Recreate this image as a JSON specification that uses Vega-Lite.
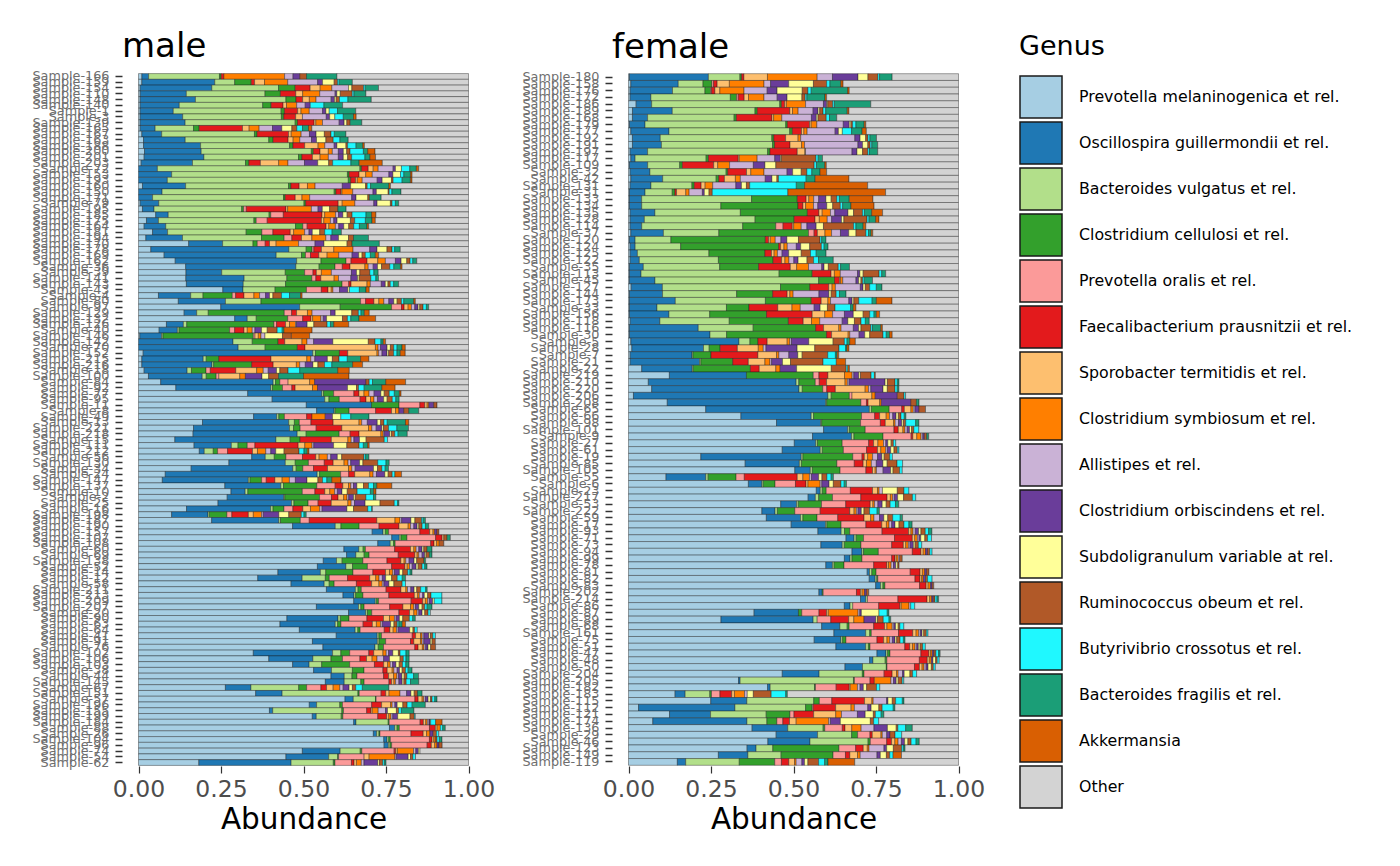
{
"$schema": "https://vega.github.io/schema/vega-lite/v6.json",
"padding": {"left": 31, "top": 29, "right": 5, "bottom": 5},
"background": "white",
"datasets": {
"genus": [
{"key":"a","genus":"Prevotella melaninogenica et rel.","ord":1},
{"key":"b","genus":"Oscillospira guillermondii et rel.","ord":2},
{"key":"c","genus":"Bacteroides vulgatus et rel.","ord":3},
{"key":"d","genus":"Clostridium cellulosi et rel.","ord":4},
{"key":"e","genus":"Prevotella oralis et rel.","ord":5},
{"key":"f","genus":"Faecalibacterium prausnitzii et rel.","ord":6},
{"key":"g","genus":"Sporobacter termitidis et rel.","ord":7},
{"key":"h","genus":"Clostridium symbiosum et rel.","ord":8},
{"key":"ii","genus":"Allistipes et rel.","ord":9},
{"key":"j","genus":"Clostridium orbiscindens et rel.","ord":10},
{"key":"k","genus":"Subdoligranulum variable at rel.","ord":11},
{"key":"l","genus":"Ruminococcus obeum et rel.","ord":12},
{"key":"m","genus":"Butyrivibrio crossotus et rel.","ord":13},
{"key":"n","genus":"Bacteroides fragilis et rel.","ord":14},
{"key":"o","genus":"Akkermansia","ord":15},
{"key":"z","genus":"Other","ord":16}
],
"abund": [
{"s":"Sample-166","sx":"male","i":1,"a":0.01,"b":0.02,"c":0.21,"d":0.005,"f":0.008,"h":0.18,"ii":0.025,"j":0.02,"l":0.02,"n":0.09,"z":0.39},
{"s":"Sample-159","sx":"male","i":2,"a":0.01,"b":0.22,"c":0.06,"d":0.05,"f":0.01,"g":0.03,"h":0.07,"ii":0.09,"j":0.015,"k":0.035,"l":0.01,"m":0.005,"n":0.04,"z":0.35},
{"s":"Sample-154","sx":"male","i":3,"a":0.005,"b":0.215,"c":0.2,"d":0.05,"f":0.045,"g":0.03,"h":0.035,"ii":0.05,"k":0.01,"l":0.035,"m":0.005,"n":0.04,"z":0.27},
{"s":"Sample-110","sx":"male","i":4,"a":0.005,"b":0.135,"c":0.23,"d":0.045,"f":0.045,"g":0.02,"h":0.05,"ii":0.045,"j":0.005,"k":0.01,"l":0.035,"m":0.005,"n":0.035,"z":0.3},
{"s":"Sample-148","sx":"male","i":5,"a":0.005,"b":0.165,"c":0.27,"d":0.03,"f":0.02,"g":0.02,"h":0.02,"ii":0.045,"j":0.01,"k":0.005,"l":0.01,"m":0.025,"n":0.07,"z":0.29},
{"s":"Sample-140","sx":"male","i":6,"a":0.005,"b":0.115,"c":0.245,"d":0.025,"f":0.035,"g":0.01,"h":0.03,"ii":0.025,"j":0.015,"m":0.04,"n":0.055,"z":0.37},
{"s":"Sample-1","sx":"male","i":7,"a":0.005,"b":0.1,"c":0.325,"d":0.01,"f":0.04,"g":0.01,"h":0.025,"ii":0.04,"j":0.01,"k":0.01,"m":0.025,"n":0.055,"z":0.34},
{"s":"Sample-3","sx":"male","i":8,"a":0.005,"b":0.125,"c":0.29,"d":0.007,"f":0.035,"g":0.02,"ii":0.07,"j":0.01,"k":0.015,"m":0.025,"n":0.03,"o":0.008,"z":0.33},
{"s":"Sample-139","sx":"male","i":9,"a":0.005,"b":0.135,"c":0.33,"d":0.007,"f":0.05,"g":0.005,"h":0.02,"ii":0.05,"j":0.015,"k":0.008,"l":0.01,"n":0.035,"z":0.32},
{"s":"Sample-165","sx":"male","i":10,"a":0.005,"b":0.045,"c":0.115,"d":0.017,"f":0.13,"g":0.02,"h":0.03,"ii":0.04,"j":0.028,"k":0.03,"l":0.015,"m":0.017,"n":0.018,"o":0.01,"z":0.47},
{"s":"Sample-167","sx":"male","i":11,"a":0.01,"b":0.06,"c":0.28,"d":0.008,"f":0.095,"g":0.008,"h":0.03,"ii":0.025,"j":0.02,"k":0.025,"l":0.02,"m":0.01,"n":0.035,"z":0.37},
{"s":"Sample-163","sx":"male","i":12,"a":0.015,"b":0.125,"c":0.25,"d":0.013,"f":0.045,"g":0.015,"h":0.02,"ii":0.035,"j":0.015,"k":0.028,"l":0.022,"m":0.02,"n":0.025,"z":0.36},
{"s":"Sample-188","sx":"male","i":13,"a":0.015,"b":0.17,"c":0.265,"d":0.01,"f":0.035,"g":0.04,"h":0.02,"ii":0.028,"j":0.008,"k":0.027,"l":0.005,"m":0.025,"n":0.02,"o":0.005,"z":0.31},
{"s":"Sample-200","sx":"male","i":14,"a":0.018,"b":0.17,"c":0.33,"d":0.006,"f":0.02,"g":0.025,"h":0.012,"ii":0.018,"j":0.015,"k":0.01,"l":0.01,"m":0.04,"n":0.013,"o":0.022,"z":0.28},
{"s":"Sample-201","sx":"male","i":15,"a":0.017,"b":0.18,"c":0.285,"d":0.01,"f":0.032,"g":0.023,"h":0.025,"ii":0.03,"j":0.015,"k":0.013,"l":0.012,"m":0.04,"n":0.015,"o":0.017,"z":0.28},
{"s":"Sample-203","sx":"male","i":16,"a":0.008,"b":0.155,"c":0.16,"d":0.01,"f":0.035,"g":0.055,"h":0.028,"ii":0.05,"j":0.04,"k":0.033,"l":0.012,"m":0.055,"n":0.025,"o":0.07,"z":0.26},
{"s":"Sample-72","sx":"male","i":17,"b":0.057,"c":0.61,"d":0.005,"f":0.02,"g":0.015,"h":0.015,"ii":0.045,"j":0.007,"k":0.018,"m":0.025,"n":0.02,"o":0.007,"z":0.15},
{"s":"Sample-153","sx":"male","i":18,"b":0.1,"c":0.53,"d":0.005,"f":0.03,"g":0.02,"h":0.02,"ii":0.05,"j":0.012,"k":0.023,"m":0.01,"n":0.02,"o":0.005,"z":0.17},
{"s":"Sample-193","sx":"male","i":19,"b":0.087,"c":0.545,"d":0.007,"f":0.015,"g":0.005,"h":0.015,"ii":0.045,"j":0.015,"k":0.028,"l":0.005,"m":0.027,"n":0.025,"o":0.005,"z":0.17},
{"s":"Sample-160","sx":"male","i":20,"a":0.012,"b":0.13,"c":0.31,"d":0.007,"f":0.025,"g":0.025,"h":0.023,"ii":0.082,"j":0.025,"k":0.045,"l":0.005,"m":0.01,"n":0.055,"o":0.005,"z":0.235},
{"s":"Sample-150","sx":"male","i":21,"b":0.07,"c":0.51,"d":0.005,"f":0.015,"g":0.003,"h":0.032,"ii":0.06,"j":0.01,"k":0.035,"l":0.003,"m":0.008,"n":0.027,"z":0.2},
{"s":"Sample-171","sx":"male","i":22,"b":0.042,"c":0.39,"d":0.005,"f":0.03,"g":0.02,"h":0.023,"ii":0.125,"j":0.013,"k":0.035,"l":0.005,"n":0.035,"z":0.26},
{"s":"Sample-79","sx":"male","i":23,"a":0.005,"b":0.056,"c":0.437,"d":0.005,"f":0.098,"g":0.012,"h":0.038,"ii":0.057,"j":0.01,"k":0.04,"l":0.005,"m":0.01,"n":0.01,"z":0.21},
{"s":"Sample-195","sx":"male","i":24,"a":0.012,"b":0.035,"c":0.265,"d":0.006,"e":0.008,"f":0.12,"g":0.005,"h":0.072,"ii":0.02,"j":0.013,"k":0.022,"l":0.025,"n":0.025,"z":0.37},
{"s":"Sample-185","sx":"male","i":25,"a":0.052,"b":0.038,"c":0.305,"d":0.005,"e":0.038,"f":0.117,"g":0.008,"h":0.033,"ii":0.009,"j":0.013,"k":0.013,"l":0.015,"m":0.042,"n":0.017,"o":0.013,"z":0.28},
{"s":"Sample-175","sx":"male","i":26,"a":0.024,"b":0.036,"c":0.287,"d":0.007,"e":0.033,"f":0.163,"g":0.007,"h":0.02,"ii":0.01,"j":0.01,"k":0.04,"l":0.013,"m":0.032,"n":0.02,"o":0.01,"z":0.28},
{"s":"Sample-164","sx":"male","i":27,"a":0.017,"b":0.065,"c":0.39,"d":0.022,"e":0.013,"f":0.057,"g":0.008,"h":0.02,"ii":0.01,"j":0.015,"k":0.015,"l":0.015,"m":0.017,"n":0.023,"o":0.005,"z":0.3},
{"s":"Sample-181","sx":"male","i":28,"a":0.042,"b":0.045,"c":0.235,"d":0.047,"e":0.033,"f":0.052,"g":0.01,"h":0.033,"ii":0.013,"j":0.01,"k":0.022,"l":0.015,"m":0.022,"n":0.028,"z":0.38},
{"s":"Sample-194","sx":"male","i":29,"a":0.022,"b":0.11,"c":0.237,"d":0.068,"e":0.023,"f":0.029,"g":0.031,"h":0.042,"ii":0.015,"j":0.023,"k":0.03,"l":0.015,"n":0.045,"z":0.3},
{"s":"Sample-170","sx":"male","i":30,"a":0.152,"b":0.103,"c":0.092,"d":0.013,"e":0.024,"f":0.013,"g":0.02,"h":0.068,"ii":0.05,"j":0.027,"k":0.07,"l":0.015,"n":0.083,"z":0.27},
{"s":"Sample-178","sx":"male","i":31,"a":0.037,"b":0.415,"c":0.052,"d":0.018,"e":0.005,"f":0.023,"g":0.037,"h":0.058,"ii":0.05,"j":0.022,"k":0.03,"l":0.015,"m":0.008,"n":0.017,"z":0.205},
{"s":"Sample-169","sx":"male","i":32,"a":0.077,"b":0.337,"c":0.076,"d":0.012,"e":0.015,"f":0.025,"g":0.025,"h":0.035,"ii":0.04,"j":0.02,"k":0.01,"l":0.01,"m":0.015,"n":0.015,"o":0.01,"z":0.27},
{"s":"Sample-162","sx":"male","i":33,"a":0.11,"b":0.364,"c":0.073,"d":0.075,"e":0.015,"f":0.048,"g":0.032,"h":0.023,"ii":0.03,"j":0.017,"k":0.017,"l":0.01,"m":0.008,"n":0.012,"z":0.155},
{"s":"Sample-36","sx":"male","i":34,"a":0.142,"b":0.332,"c":0.07,"d":0.048,"e":0.022,"f":0.023,"g":0.045,"h":0.01,"ii":0.015,"j":0.013,"k":0.012,"l":0.025,"m":0.012,"n":0.02,"o":0.005,"z":0.2},
{"s":"Sample-39","sx":"male","i":35,"a":0.142,"b":0.107,"c":0.19,"d":0.058,"e":0.025,"f":0.01,"g":0.015,"h":0.03,"ii":0.06,"j":0.015,"k":0.01,"l":0.03,"m":0.012,"n":0.013,"z":0.27},
{"s":"Sample-141","sx":"male","i":36,"a":0.142,"b":0.175,"c":0.128,"d":0.075,"e":0.012,"f":0.015,"g":0.04,"h":0.013,"ii":0.037,"j":0.02,"k":0.005,"l":0.035,"m":0.015,"n":0.008,"z":0.27},
{"s":"Sample-143","sx":"male","i":37,"a":0.144,"b":0.171,"c":0.127,"d":0.17,"e":0.02,"f":0.007,"g":0.048,"h":0.01,"ii":0.033,"j":0.012,"k":0.008,"l":0.007,"m":0.01,"n":0.015,"z":0.21},
{"s":"Sample-43","sx":"male","i":38,"a":0.255,"b":0.061,"c":0.097,"d":0.095,"e":0.045,"f":0.02,"g":0.01,"h":0.005,"ii":0.02,"j":0.025,"k":0.005,"m":0.03,"n":0.02,"o":0.01,"z":0.3},
{"s":"Sample-4","sx":"male","i":39,"a":0.06,"b":0.097,"c":0.037,"d":0.088,"e":0.01,"f":0.025,"g":0.03,"h":0.017,"ii":0.018,"j":0.012,"k":0.01,"l":0.026,"m":0.024,"n":0.033,"o":0.005,"z":0.5},
{"s":"Sample-80","sx":"male","i":40,"a":0.12,"b":0.142,"c":0.107,"d":0.3,"e":0.015,"f":0.025,"g":0.015,"h":0.015,"ii":0.015,"j":0.015,"k":0.01,"l":0.013,"m":0.007,"n":0.03,"o":0.005,"z":0.16},
{"s":"Sample-97","sx":"male","i":41,"a":0.248,"b":0.238,"c":0.122,"d":0.155,"e":0.03,"f":0.008,"g":0.012,"h":0.01,"ii":0.01,"j":0.01,"k":0.005,"l":0.01,"m":0.01,"n":0.007,"z":0.12},
{"s":"Sample-129","sx":"male","i":42,"a":0.138,"b":0.038,"c":0.035,"d":0.23,"e":0.022,"f":0.015,"g":0.033,"h":0.014,"ii":0.056,"j":0.014,"k":0.05,"l":0.02,"m":0.008,"n":0.01,"o":0.015,"z":0.3},
{"s":"Sample-132","sx":"male","i":43,"a":0.29,"b":0.038,"c":0.027,"d":0.095,"e":0.045,"f":0.025,"g":0.005,"h":0.025,"ii":0.007,"j":0.01,"k":0.048,"l":0.015,"m":0.01,"n":0.025,"o":0.05,"z":0.28},
{"s":"Sample-126","sx":"male","i":44,"a":0.084,"b":0.051,"c":0.01,"d":0.262,"e":0.008,"f":0.027,"g":0.012,"h":0.018,"ii":0.003,"j":0.032,"k":0.02,"l":0.04,"m":0.01,"n":0.01,"o":0.045,"z":0.36},
{"s":"Sample-40","sx":"male","i":45,"a":0.062,"b":0.055,"c":0.005,"d":0.152,"e":0.015,"f":0.028,"g":0.01,"h":0.015,"ii":0.008,"j":0.02,"k":0.017,"l":0.03,"m":0.015,"n":0.005,"o":0.085,"z":0.47},
{"s":"Sample-146","sx":"male","i":46,"a":0.004,"b":0.066,"c":0.004,"d":0.273,"e":0.005,"g":0.01,"h":0.008,"ii":0.012,"k":0.053,"l":0.027,"o":0.055,"z":0.48},
{"s":"Sample-142","sx":"male","i":47,"b":0.285,"c":0.058,"d":0.078,"f":0.02,"g":0.052,"h":0.015,"ii":0.02,"j":0.058,"k":0.107,"l":0.02,"m":0.018,"n":0.007,"o":0.007,"z":0.25},
{"s":"Sample-70","sx":"male","i":48,"b":0.3,"c":0.081,"d":0.097,"f":0.023,"g":0.212,"h":0.008,"ii":0.007,"j":0.02,"k":0.01,"l":0.01,"m":0.01,"n":0.015,"o":0.01,"z":0.19},
{"s":"Sample-152","sx":"male","i":49,"a":0.014,"b":0.51,"c":0.008,"d":0.072,"f":0.025,"g":0.088,"h":0.005,"ii":0.01,"j":0.015,"k":0.005,"l":0.015,"m":0.01,"n":0.01,"o":0.015,"z":0.19},
{"s":"Sample-215","sx":"male","i":50,"a":0.01,"b":0.185,"c":0.009,"d":0.038,"f":0.157,"g":0.108,"h":0.012,"ii":0.012,"j":0.038,"k":0.015,"l":0.02,"m":0.025,"n":0.04,"o":0.025,"z":0.3},
{"s":"Sample-216","sx":"male","i":51,"a":0.01,"b":0.212,"c":0.005,"d":0.115,"f":0.065,"g":0.07,"h":0.01,"ii":0.017,"j":0.023,"k":0.015,"l":0.02,"m":0.022,"n":0.063,"o":0.03,"z":0.32},
{"s":"Sample-18","sx":"male","i":52,"a":0.017,"b":0.13,"c":0.013,"d":0.044,"e":0.013,"f":0.077,"g":0.063,"h":0.02,"ii":0.015,"j":0.025,"k":0.01,"l":0.025,"m":0.035,"n":0.115,"o":0.035,"z":0.36},
{"s":"Sample-100","sx":"male","i":53,"a":0.03,"b":0.162,"c":0.012,"d":0.03,"e":0.008,"g":0.063,"h":0.017,"j":0.05,"k":0.02,"l":0.03,"n":0.075,"o":0.137,"z":0.36},
{"s":"Sample-84","sx":"male","i":54,"a":0.067,"b":0.34,"c":0.007,"d":0.013,"e":0.025,"g":0.065,"h":0.015,"j":0.155,"l":0.01,"m":0.01,"n":0.04,"o":0.06,"z":0.19},
{"s":"Sample-92","sx":"male","i":55,"a":0.112,"b":0.285,"c":0.005,"d":0.03,"e":0.028,"f":0.01,"g":0.052,"h":0.015,"j":0.09,"k":0.027,"l":0.006,"m":0.017,"n":0.053,"o":0.04,"z":0.22},
{"s":"Sample-77","sx":"male","i":56,"a":0.324,"b":0.22,"c":0.005,"d":0.03,"e":0.06,"f":0.015,"g":0.015,"h":0.015,"ii":0.015,"j":0.02,"k":0.01,"l":0.015,"m":0.015,"n":0.015,"o":0.005,"z":0.2},
{"s":"Sample-95","sx":"male","i":57,"a":0.386,"b":0.152,"c":0.012,"d":0.03,"e":0.06,"f":0.017,"g":0.013,"h":0.01,"ii":0.01,"j":0.018,"k":0.01,"l":0.015,"m":0.01,"n":0.01,"z":0.2},
{"s":"Sample-11","sx":"male","i":58,"a":0.507,"b":0.197,"d":0.083,"e":0.063,"f":0.015,"g":0.007,"h":0.005,"j":0.015,"l":0.01,"z":0.095},
{"s":"Sample-8","sx":"male","i":59,"a":0.537,"b":0.053,"c":0.003,"d":0.042,"e":0.08,"f":0.048,"g":0.012,"h":0.01,"j":0.015,"l":0.015,"n":0.03,"z":0.15},
{"s":"Sample-49","sx":"male","i":60,"a":0.347,"b":0.07,"c":0.006,"d":0.017,"e":0.067,"f":0.016,"h":0.04,"j":0.022,"k":0.025,"m":0.03,"n":0.055,"z":0.3},
{"s":"Sample-13","sx":"male","i":61,"a":0.193,"b":0.26,"c":0.017,"d":0.015,"e":0.035,"f":0.067,"g":0.078,"h":0.008,"ii":0.017,"j":0.03,"k":0.01,"l":0.01,"m":0.01,"n":0.055,"o":0.01,"z":0.18},
{"s":"Sample-221","sx":"male","i":62,"a":0.165,"b":0.288,"c":0.012,"d":0.02,"e":0.048,"f":0.077,"g":0.08,"h":0.01,"ii":0.013,"j":0.017,"k":0.005,"l":0.015,"m":0.025,"n":0.035,"z":0.18},
{"s":"Sample-218","sx":"male","i":63,"a":0.165,"b":0.315,"c":0.027,"d":0.1,"e":0.033,"f":0.027,"g":0.066,"h":0.007,"ii":0.003,"j":0.017,"k":0.005,"l":0.01,"m":0.01,"n":0.028,"z":0.185},
{"s":"Sample-15","sx":"male","i":64,"a":0.11,"b":0.306,"c":0.043,"d":0.03,"f":0.095,"g":0.05,"h":0.01,"ii":0.008,"j":0.017,"k":0.02,"l":0.055,"m":0.01,"z":0.245},
{"s":"Sample-111","sx":"male","i":65,"a":0.168,"b":0.113,"c":0.02,"d":0.028,"e":0.023,"f":0.131,"g":0.02,"h":0.022,"ii":0.005,"j":0.06,"k":0.04,"l":0.037,"m":0.013,"n":0.013,"o":0.005,"z":0.3},
{"s":"Sample-212","sx":"male","i":66,"a":0.183,"b":0.015,"c":0.027,"d":0.013,"e":0.03,"f":0.075,"g":0.015,"h":0.025,"ii":0.015,"j":0.015,"k":0.025,"l":0.045,"m":0.015,"n":0.01,"o":0.005,"z":0.48},
{"s":"Sample-56","sx":"male","i":67,"a":0.341,"b":0.041,"c":0.027,"d":0.035,"e":0.05,"f":0.04,"g":0.01,"h":0.025,"ii":0.01,"j":0.02,"k":0.013,"l":0.067,"m":0.005,"n":0.01,"z":0.3},
{"s":"Sample-130","sx":"male","i":68,"a":0.274,"b":0.171,"c":0.03,"d":0.04,"e":0.048,"f":0.027,"g":0.033,"h":0.012,"ii":0.008,"j":0.027,"k":0.01,"l":0.045,"m":0.025,"n":0.01,"z":0.24},
{"s":"Sample-34","sx":"male","i":69,"a":0.158,"b":0.305,"c":0.01,"d":0.02,"e":0.032,"f":0.042,"g":0.063,"h":0.01,"ii":0.01,"j":0.055,"k":0.012,"l":0.013,"m":0.01,"n":0.01,"z":0.24},
{"s":"Sample-24","sx":"male","i":70,"a":0.08,"b":0.454,"c":0.007,"d":0.063,"e":0.024,"f":0.018,"g":0.045,"h":0.01,"ii":0.01,"j":0.025,"k":0.01,"l":0.012,"m":0.008,"o":0.02,"z":0.2},
{"s":"Sample-147","sx":"male","i":71,"a":0.072,"b":0.26,"c":0.005,"d":0.035,"e":0.014,"f":0.026,"g":0.022,"h":0.022,"ii":0.018,"j":0.035,"k":0.033,"l":0.014,"m":0.013,"n":0.015,"o":0.028,"z":0.385},
{"s":"Sample-137","sx":"male","i":72,"a":0.259,"b":0.168,"c":0.008,"d":0.1,"e":0.055,"f":0.023,"g":0.017,"h":0.007,"ii":0.008,"j":0.01,"k":0.02,"l":0.015,"m":0.015,"n":0.01,"o":0.045,"z":0.23},
{"s":"Sample-10","sx":"male","i":73,"a":0.28,"b":0.043,"c":0.008,"d":0.165,"e":0.038,"f":0.03,"g":0.015,"h":0.015,"ii":0.008,"j":0.014,"k":0.016,"l":0.03,"m":0.04,"n":0.01,"o":0.007,"z":0.28},
{"s":"Sample-2","sx":"male","i":74,"a":0.268,"b":0.171,"c":0.003,"d":0.105,"e":0.036,"f":0.02,"g":0.017,"h":0.01,"ii":0.005,"j":0.015,"k":0.005,"l":0.032,"m":0.023,"n":0.007,"z":0.28},
{"s":"Sample-25","sx":"male","i":75,"a":0.24,"b":0.222,"c":0.007,"d":0.043,"e":0.03,"f":0.04,"g":0.05,"h":0.01,"ii":0.01,"j":0.032,"k":0.045,"l":0.043,"m":0.01,"n":0.004,"z":0.21},
{"s":"Sample-16","sx":"male","i":76,"a":0.145,"b":0.254,"c":0.007,"d":0.033,"e":0.027,"f":0.03,"g":0.023,"h":0.028,"ii":0.007,"j":0.075,"k":0.02,"l":0.043,"m":0.012,"n":0.002,"z":0.29},
{"s":"Sample-198","sx":"male","i":77,"a":0.1,"b":0.11,"c":0.004,"d":0.053,"e":0.015,"f":0.05,"g":0.015,"h":0.025,"ii":0.005,"j":0.047,"k":0.03,"l":0.038,"m":0.008,"n":0.007,"z":0.49},
{"s":"Sample-187","sx":"male","i":78,"a":0.221,"b":0.203,"c":0.005,"d":0.06,"e":0.027,"f":0.204,"g":0.055,"h":0.015,"ii":0.005,"j":0.028,"k":0.012,"l":0.02,"m":0.005,"n":0.007,"z":0.13},
{"s":"Sample-190","sx":"male","i":79,"a":0.465,"b":0.129,"c":0.017,"d":0.055,"e":0.06,"f":0.06,"g":0.028,"h":0.007,"ii":0.01,"j":0.01,"k":0.005,"l":0.01,"m":0.01,"n":0.01,"z":0.12},
{"s":"Sample-157","sx":"male","i":80,"a":0.711,"b":0.033,"c":0.007,"d":0.01,"e":0.095,"f":0.03,"g":0.01,"h":0.005,"j":0.007,"l":0.006,"z":0.09},
{"s":"Sample-107","sx":"male","i":81,"a":0.769,"b":0.023,"c":0.005,"d":0.018,"e":0.087,"f":0.02,"g":0.005,"l":0.01,"n":0.01,"z":0.055},
{"s":"Sample-108","sx":"male","i":82,"a":0.728,"b":0.038,"c":0.01,"d":0.005,"e":0.108,"f":0.01,"g":0.008,"h":0.008,"l":0.014,"z":0.075},
{"s":"Sample-60","sx":"male","i":83,"a":0.62,"b":0.045,"c":0.013,"d":0.007,"e":0.088,"f":0.048,"g":0.01,"h":0.007,"ii":0.008,"j":0.01,"k":0.005,"l":0.01,"n":0.015,"z":0.11},
{"s":"Sample-69","sx":"male","i":84,"a":0.628,"b":0.028,"c":0.025,"d":0.015,"e":0.088,"f":0.05,"g":0.007,"h":0.005,"ii":0.01,"j":0.008,"k":0.004,"l":0.01,"n":0.008,"z":0.11},
{"s":"Sample-138","sx":"male","i":85,"a":0.56,"b":0.04,"c":0.017,"d":0.063,"e":0.073,"f":0.042,"g":0.01,"h":0.005,"ii":0.01,"j":0.015,"k":0.008,"l":0.022,"n":0.005,"z":0.13},
{"s":"Sample-52","sx":"male","i":86,"a":0.54,"b":0.086,"c":0.02,"d":0.045,"e":0.073,"f":0.04,"g":0.007,"h":0.007,"ii":0.008,"j":0.012,"k":0.006,"l":0.012,"m":0.008,"n":0.007,"z":0.125},
{"s":"Sample-14","sx":"male","i":87,"a":0.42,"b":0.128,"c":0.016,"d":0.082,"e":0.06,"f":0.038,"g":0.012,"h":0.01,"ii":0.005,"j":0.015,"k":0.01,"l":0.015,"m":0.007,"n":0.006,"z":0.17},
{"s":"Sample-12","sx":"male","i":88,"a":0.36,"b":0.134,"c":0.07,"d":0.012,"e":0.055,"f":0.067,"g":0.018,"h":0.01,"ii":0.01,"j":0.01,"k":0.018,"l":0.017,"m":0.015,"n":0.01,"z":0.19},
{"s":"Sample-58","sx":"male","i":89,"a":0.46,"b":0.1,"c":0.015,"d":0.015,"e":0.067,"f":0.046,"g":0.022,"h":0.01,"ii":0.005,"j":0.015,"k":0.015,"l":0.025,"m":0.01,"z":0.19},
{"s":"Sample-211","sx":"male","i":90,"a":0.57,"b":0.088,"c":0.008,"d":0.01,"e":0.075,"f":0.045,"g":0.015,"h":0.005,"ii":0.01,"j":0.01,"k":0.008,"l":0.012,"m":0.015,"n":0.005,"z":0.125},
{"s":"Sample-213","sx":"male","i":91,"a":0.616,"b":0.033,"c":0.005,"d":0.022,"e":0.078,"f":0.077,"g":0.01,"h":0.005,"ii":0.01,"j":0.005,"k":0.01,"l":0.01,"m":0.033,"z":0.08},
{"s":"Sample-209","sx":"male","i":92,"a":0.649,"b":0.065,"c":0.004,"d":0.006,"e":0.098,"f":0.035,"g":0.008,"h":0.007,"ii":0.005,"j":0.01,"k":0.005,"m":0.023,"z":0.08},
{"s":"Sample-207","sx":"male","i":93,"a":0.537,"b":0.127,"c":0.007,"d":0.01,"e":0.077,"f":0.04,"g":0.023,"h":0.01,"ii":0.005,"j":0.01,"k":0.01,"l":0.008,"m":0.007,"n":0.015,"z":0.11},
{"s":"Sample-20","sx":"male","i":94,"a":0.634,"b":0.052,"c":0.005,"d":0.013,"e":0.082,"f":0.032,"g":0.013,"h":0.01,"ii":0.005,"j":0.01,"k":0.008,"l":0.01,"m":0.007,"z":0.115},
{"s":"Sample-90","sx":"male","i":95,"a":0.447,"b":0.154,"c":0.007,"d":0.026,"e":0.054,"f":0.05,"g":0.018,"h":0.015,"ii":0.005,"j":0.01,"k":0.01,"l":0.02,"m":0.01,"n":0.008,"z":0.16},
{"s":"Sample-63","sx":"male","i":96,"a":0.427,"b":0.167,"c":0.007,"d":0.01,"e":0.067,"f":0.028,"g":0.012,"h":0.013,"ii":0.005,"j":0.025,"k":0.01,"l":0.01,"m":0.005,"n":0.01,"o":0.01,"z":0.19},
{"s":"Sample-64","sx":"male","i":97,"a":0.487,"b":0.169,"c":0.008,"d":0.007,"e":0.073,"f":0.017,"g":0.01,"h":0.01,"ii":0.005,"j":0.035,"k":0.01,"l":0.005,"m":0.008,"z":0.155},
{"s":"Sample-41","sx":"male","i":98,"a":0.598,"b":0.124,"c":0.005,"d":0.008,"e":0.093,"f":0.01,"g":0.015,"h":0.005,"ii":0.005,"j":0.015,"k":0.005,"l":0.007,"m":0.008,"z":0.1},
{"s":"Sample-91","sx":"male","i":99,"a":0.525,"b":0.196,"c":0.005,"d":0.02,"e":0.075,"f":0.01,"g":0.02,"h":0.005,"ii":0.005,"j":0.02,"k":0.005,"l":0.01,"z":0.1},
{"s":"Sample-76","sx":"male","i":100,"a":0.56,"b":0.158,"c":0.01,"d":0.016,"e":0.095,"f":0.01,"g":0.013,"h":0.005,"ii":0.005,"j":0.007,"k":0.008,"l":0.015,"z":0.1},
{"s":"Sample-102","sx":"male","i":101,"a":0.349,"b":0.241,"c":0.025,"d":0.027,"e":0.058,"f":0.015,"g":0.028,"h":0.01,"ii":0.007,"j":0.013,"k":0.017,"l":0.005,"m":0.018,"n":0.01,"z":0.18},
{"s":"Sample-106","sx":"male","i":102,"a":0.396,"b":0.134,"c":0.055,"d":0.035,"e":0.053,"f":0.02,"g":0.017,"h":0.015,"ii":0.02,"j":0.018,"k":0.032,"l":0.01,"m":0.008,"n":0.01,"z":0.18},
{"s":"Sample-103","sx":"male","i":103,"a":0.467,"b":0.05,"c":0.038,"d":0.085,"e":0.075,"f":0.028,"g":0.012,"h":0.008,"ii":0.007,"j":0.01,"k":0.01,"l":0.01,"m":0.01,"n":0.01,"z":0.18},
{"s":"Sample-38","sx":"male","i":104,"a":0.528,"b":0.054,"c":0.063,"d":0.035,"e":0.057,"f":0.013,"g":0.015,"h":0.005,"ii":0.01,"j":0.007,"k":0.008,"l":0.01,"m":0.008,"n":0.012,"z":0.17},
{"s":"Sample-44","sx":"male","i":105,"a":0.578,"b":0.04,"c":0.023,"d":0.015,"e":0.08,"f":0.015,"g":0.015,"h":0.01,"ii":0.005,"j":0.01,"k":0.007,"l":0.008,"m":0.02,"n":0.015,"z":0.15},
{"s":"Sample-145","sx":"male","i":106,"a":0.564,"b":0.057,"c":0.05,"d":0.01,"e":0.075,"f":0.008,"g":0.007,"h":0.005,"ii":0.01,"j":0.01,"k":0.005,"l":0.007,"m":0.013,"n":0.025,"z":0.15},
{"s":"Sample-67","sx":"male","i":107,"a":0.262,"b":0.077,"c":0.144,"d":0.024,"e":0.043,"f":0.017,"g":0.02,"h":0.02,"ii":0.01,"j":0.018,"k":0.01,"l":0.01,"m":0.02,"n":0.08,"z":0.24},
{"s":"Sample-151","sx":"male","i":108,"a":0.354,"b":0.08,"c":0.229,"d":0.004,"e":0.066,"f":0.014,"g":0.01,"h":0.033,"ii":0.02,"j":0.013,"k":0.01,"l":0.01,"n":0.014,"z":0.14},
{"s":"Sample-57","sx":"male","i":109,"a":0.624,"b":0.025,"c":0.067,"d":0.002,"e":0.117,"f":0.01,"g":0.012,"h":0.005,"ii":0.005,"j":0.008,"k":0.007,"l":0.005,"m":0.008,"n":0.007,"z":0.095},
{"s":"Sample-196","sx":"male","i":110,"a":0.515,"b":0.022,"c":0.07,"d":0.008,"e":0.088,"f":0.03,"g":0.027,"h":0.005,"ii":0.008,"j":0.007,"k":0.017,"l":0.013,"m":0.015,"n":0.04,"z":0.13},
{"s":"Sample-155","sx":"male","i":111,"a":0.396,"b":0.01,"c":0.209,"d":0.005,"e":0.07,"f":0.013,"g":0.004,"h":0.018,"ii":0.022,"j":0.006,"k":0.027,"l":0.007,"m":0.008,"n":0.038,"z":0.165},
{"s":"Sample-199","sx":"male","i":112,"a":0.523,"b":0.012,"c":0.075,"d":0.005,"e":0.105,"f":0.027,"g":0.006,"h":0.007,"ii":0.005,"j":0.015,"k":0.037,"l":0.013,"m":0.003,"z":0.16},
{"s":"Sample-184","sx":"male","i":113,"a":0.654,"b":0.007,"c":0.098,"d":0.003,"e":0.094,"f":0.01,"g":0.007,"h":0.005,"ii":0.005,"j":0.003,"k":0.002,"m":0.015,"o":0.02,"z":0.08},
{"s":"Sample-88","sx":"male","i":114,"a":0.759,"b":0.016,"c":0.007,"d":0.007,"e":0.091,"f":0.018,"g":0.005,"h":0.01,"m":0.007,"n":0.008,"z":0.07},
{"s":"Sample-26","sx":"male","i":115,"a":0.711,"b":0.01,"c":0.007,"d":0.003,"e":0.094,"f":0.037,"g":0.01,"h":0.01,"j":0.01,"l":0.01,"m":0.007,"z":0.09},
{"s":"Sample-104","sx":"male","i":116,"a":0.741,"b":0.01,"c":0.005,"d":0.005,"e":0.118,"f":0.008,"g":0.005,"h":0.005,"l":0.005,"m":0.007,"n":0.008,"z":0.08},
{"s":"Sample-96","sx":"male","i":117,"a":0.748,"b":0.013,"c":0.005,"d":0.005,"e":0.108,"f":0.013,"g":0.01,"h":0.007,"j":0.006,"l":0.01,"z":0.08},
{"s":"Sample-74","sx":"male","i":118,"a":0.507,"b":0.117,"c":0.062,"d":0.005,"e":0.1,"f":0.005,"g":0.005,"h":0.05,"ii":0.007,"j":0.008,"k":0.005,"z":0.15},
{"s":"Sample-54","sx":"male","i":119,"a":0.445,"b":0.129,"c":0.027,"d":0.003,"e":0.077,"g":0.015,"h":0.078,"ii":0.004,"j":0.036,"k":0.007,"l":0.007,"m":0.008,"z":0.16},
{"s":"Sample-62","sx":"male","i":120,"a":0.183,"b":0.28,"c":0.128,"d":0.005,"e":0.05,"f":0.008,"g":0.007,"h":0.015,"ii":0.008,"j":0.042,"k":0.005,"l":0.01,"m":0.005,"n":0.005,"z":0.25},
{"s":"Sample-180","sx":"female","i":1,"a":0.003,"b":0.238,"c":0.095,"d":0.005,"f":0.007,"g":0.071,"h":0.15,"ii":0.046,"j":0.077,"k":0.03,"l":0.03,"m":0.005,"n":0.038,"z":0.2},
{"s":"Sample-158","sx":"female","i":2,"a":0.007,"b":0.144,"c":0.075,"d":0.027,"e":0.005,"f":0.011,"g":0.037,"h":0.105,"ii":0.02,"j":0.055,"k":0.075,"l":0.04,"m":0.01,"n":0.033,"o":0.007,"z":0.35},
{"s":"Sample-176","sx":"female","i":3,"a":0.005,"b":0.128,"c":0.098,"d":0.017,"e":0.003,"f":0.01,"g":0.015,"h":0.073,"ii":0.07,"j":0.03,"k":0.076,"l":0.017,"m":0.01,"n":0.11,"o":0.005,"z":0.33},
{"s":"Sample-172","sx":"female","i":4,"a":0.005,"b":0.063,"c":0.241,"d":0.019,"e":0.005,"f":0.018,"g":0.013,"h":0.047,"ii":0.04,"j":0.03,"k":0.045,"l":0.01,"m":0.005,"n":0.055,"o":0.005,"z":0.4},
{"s":"Sample-186","sx":"female","i":5,"a":0.023,"b":0.047,"c":0.387,"d":0.005,"f":0.01,"g":0.005,"h":0.058,"ii":0.054,"j":0.01,"k":0.003,"l":0.015,"m":0.005,"n":0.11,"z":0.265},
{"s":"Sample-189","sx":"female","i":6,"a":0.012,"b":0.12,"c":0.249,"d":0.007,"f":0.098,"g":0.008,"h":0.017,"ii":0.045,"j":0.015,"k":0.005,"l":0.01,"m":0.008,"n":0.065,"o":0.005,"z":0.33},
{"s":"Sample-168","sx":"female","i":7,"a":0.012,"b":0.046,"c":0.263,"d":0.007,"f":0.108,"g":0.005,"h":0.025,"ii":0.09,"j":0.015,"k":0.005,"l":0.025,"m":0.01,"n":0.022,"z":0.37},
{"s":"Sample-179","sx":"female","i":8,"a":0.003,"b":0.047,"c":0.425,"d":0.005,"f":0.067,"g":0.005,"h":0.017,"ii":0.08,"j":0.018,"k":0.005,"l":0.005,"m":0.01,"n":0.025,"o":0.005,"z":0.28},
{"s":"Sample-177","sx":"female","i":9,"a":0.007,"b":0.116,"c":0.367,"d":0.008,"f":0.028,"g":0.007,"h":0.01,"ii":0.085,"j":0.01,"k":0.012,"m":0.028,"n":0.032,"o":0.013,"z":0.28},
{"s":"Sample-192","sx":"female","i":10,"a":0.012,"b":0.085,"c":0.34,"d":0.006,"f":0.036,"g":0.038,"h":0.008,"ii":0.165,"j":0.016,"k":0.017,"l":0.007,"m":0.006,"n":0.02,"z":0.25},
{"s":"Sample-191","sx":"female","i":11,"a":0.012,"b":0.088,"c":0.337,"d":0.006,"f":0.047,"g":0.035,"h":0.009,"ii":0.162,"j":0.014,"k":0.016,"l":0.007,"m":0.005,"n":0.018,"z":0.245},
{"s":"Sample-197","sx":"female","i":12,"a":0.005,"b":0.053,"c":0.364,"d":0.007,"f":0.083,"g":0.023,"h":0.002,"ii":0.141,"j":0.015,"k":0.017,"l":0.016,"m":0.005,"n":0.025,"z":0.245},
{"s":"Sample-117","sx":"female","i":13,"a":0.007,"b":0.013,"c":0.214,"d":0.007,"f":0.09,"g":0.003,"h":0.054,"ii":0.053,"j":0.017,"k":0.003,"l":0.104,"m":0.007,"n":0.013,"z":0.41},
{"s":"Sample-109","sx":"female","i":14,"a":0.003,"b":0.055,"c":0.097,"d":0.008,"f":0.095,"g":0.012,"h":0.036,"ii":0.072,"j":0.035,"k":0.033,"l":0.116,"m":0.007,"n":0.025,"o":0.005,"z":0.4},
{"s":"Sample-32","sx":"female","i":15,"a":0.005,"b":0.06,"c":0.231,"d":0.005,"f":0.057,"g":0.013,"h":0.04,"ii":0.07,"j":0.017,"k":0.026,"l":0.017,"m":0.015,"n":0.025,"o":0.02,"z":0.4},
{"s":"Sample-42","sx":"female","i":16,"a":0.007,"b":0.096,"c":0.161,"d":0.008,"f":0.017,"g":0.033,"h":0.015,"ii":0.075,"j":0.02,"k":0.015,"l":0.005,"m":0.083,"n":0.027,"o":0.102,"z":0.33},
{"s":"Sample-131","sx":"female","i":17,"a":0.005,"b":0.063,"c":0.124,"d":0.007,"f":0.021,"g":0.012,"h":0.023,"ii":0.07,"j":0.017,"k":0.015,"l":0.01,"m":0.141,"n":0.025,"o":0.191,"z":0.275},
{"s":"Sample-31","sx":"female","i":18,"a":0.003,"b":0.047,"c":0.082,"d":0.008,"f":0.005,"g":0.028,"h":0.01,"ii":0.04,"j":0.006,"k":0.014,"l":0.01,"m":0.228,"o":0.295,"z":0.22},
{"s":"Sample-133","sx":"female","i":19,"a":0.003,"b":0.037,"c":0.334,"d":0.139,"f":0.027,"g":0.008,"h":0.015,"ii":0.015,"j":0.022,"k":0.016,"l":0.017,"m":0.008,"n":0.03,"o":0.072,"z":0.26},
{"s":"Sample-134","sx":"female","i":20,"a":0.003,"b":0.037,"c":0.239,"d":0.233,"f":0.015,"g":0.008,"h":0.024,"ii":0.013,"j":0.027,"k":0.018,"l":0.023,"m":0.007,"n":0.025,"o":0.07,"z":0.255},
{"s":"Sample-135","sx":"female","i":21,"a":0.005,"b":0.075,"c":0.259,"d":0.203,"f":0.035,"g":0.01,"h":0.025,"ii":0.013,"j":0.04,"k":0.017,"l":0.027,"m":0.006,"n":0.022,"o":0.033,"z":0.23},
{"s":"Sample-128","sx":"female","i":22,"a":0.005,"b":0.043,"c":0.334,"d":0.118,"f":0.063,"g":0.013,"h":0.024,"ii":0.013,"j":0.03,"k":0.007,"l":0.07,"m":0.006,"n":0.02,"o":0.01,"z":0.24},
{"s":"Sample-114","sx":"female","i":23,"a":0.005,"b":0.035,"c":0.305,"d":0.1,"e":0.022,"f":0.028,"g":0.004,"h":0.023,"ii":0.017,"j":0.028,"k":0.022,"l":0.091,"m":0.007,"n":0.022,"o":0.008,"z":0.28},
{"s":"Sample-37","sx":"female","i":24,"a":0.007,"b":0.099,"c":0.168,"d":0.272,"e":0.017,"f":0.01,"g":0.023,"h":0.02,"ii":0.027,"j":0.025,"k":0.022,"l":0.03,"m":0.008,"n":0.008,"o":0.005,"z":0.26},
{"s":"Sample-120","sx":"female","i":25,"a":0.003,"b":0.017,"c":0.108,"d":0.285,"f":0.01,"g":0.005,"h":0.015,"ii":0.017,"j":0.018,"k":0.035,"l":0.065,"m":0.005,"n":0.013,"z":0.4},
{"s":"Sample-124","sx":"female","i":26,"a":0.005,"b":0.015,"c":0.136,"d":0.293,"f":0.006,"g":0.01,"h":0.01,"ii":0.027,"j":0.013,"k":0.027,"l":0.035,"m":0.008,"n":0.012,"z":0.39},
{"s":"Sample-125","sx":"female","i":27,"a":0.005,"b":0.022,"c":0.216,"d":0.169,"f":0.02,"g":0.008,"h":0.01,"ii":0.014,"j":0.02,"k":0.038,"l":0.028,"m":0.017,"n":0.03,"z":0.4},
{"s":"Sample-122","sx":"female","i":28,"a":0.005,"b":0.028,"c":0.24,"d":0.166,"f":0.026,"g":0.01,"h":0.012,"ii":0.015,"j":0.013,"k":0.027,"l":0.02,"m":0.015,"n":0.045,"z":0.38},
{"s":"Sample-35","sx":"female","i":29,"a":0.003,"b":0.042,"c":0.231,"d":0.118,"f":0.096,"g":0.019,"h":0.036,"ii":0.04,"j":0.007,"k":0.013,"l":0.03,"m":0.007,"n":0.027,"z":0.33},
{"s":"Sample-113","sx":"female","i":30,"a":0.003,"b":0.035,"c":0.417,"d":0.1,"f":0.057,"g":0.01,"h":0.018,"ii":0.052,"j":0.007,"k":0.01,"l":0.048,"m":0.008,"n":0.012,"z":0.22},
{"s":"Sample-45","sx":"female","i":31,"a":0.003,"b":0.077,"c":0.495,"d":0.048,"f":0.015,"g":0.003,"h":0.007,"ii":0.04,"j":0.008,"k":0.007,"l":0.005,"m":0.005,"n":0.025,"z":0.26},
{"s":"Sample-127","sx":"female","i":32,"a":0.008,"b":0.094,"c":0.355,"d":0.088,"f":0.057,"g":0.01,"h":0.01,"ii":0.075,"j":0.008,"k":0.007,"l":0.013,"m":0.02,"n":0.017,"z":0.23},
{"s":"Sample-144","sx":"female","i":33,"a":0.003,"b":0.1,"c":0.224,"d":0.109,"f":0.044,"g":0.008,"h":0.01,"ii":0.078,"j":0.03,"k":0.007,"l":0.015,"m":0.01,"n":0.02,"z":0.34},
{"s":"Sample-173","sx":"female","i":34,"a":0.003,"b":0.138,"c":0.271,"d":0.138,"f":0.03,"g":0.02,"h":0.008,"ii":0.055,"j":0.01,"k":0.005,"l":0.015,"m":0.04,"n":0.013,"o":0.047,"z":0.2},
{"s":"Sample-33","sx":"female","i":35,"a":0.003,"b":0.083,"c":0.21,"d":0.068,"f":0.087,"g":0.043,"h":0.025,"ii":0.042,"j":0.018,"k":0.022,"l":0.023,"m":0.047,"n":0.008,"o":0.008,"z":0.31},
{"s":"Sample-156","sx":"female","i":36,"a":0.003,"b":0.12,"c":0.124,"d":0.173,"f":0.139,"g":0.038,"h":0.024,"ii":0.036,"j":0.027,"k":0.03,"l":0.02,"m":0.013,"n":0.007,"o":0.01,"z":0.24},
{"s":"Sample-118","sx":"female","i":37,"a":0.005,"b":0.09,"c":0.21,"d":0.179,"f":0.045,"g":0.025,"h":0.025,"ii":0.068,"j":0.017,"k":0.02,"l":0.02,"m":0.013,"n":0.012,"z":0.27},
{"s":"Sample-116","sx":"female","i":38,"a":0.003,"b":0.208,"c":0.166,"d":0.189,"f":0.024,"g":0.046,"h":0.007,"ii":0.037,"j":0.016,"k":0.007,"l":0.03,"m":0.005,"n":0.025,"o":0.005,"z":0.23},
{"s":"Sample-30","sx":"female","i":39,"a":0.003,"b":0.243,"c":0.05,"d":0.302,"f":0.015,"g":0.05,"h":0.005,"ii":0.028,"j":0.017,"k":0.015,"l":0.04,"m":0.01,"n":0.01,"o":0.008,"z":0.2},
{"s":"Sample-5","sx":"female","i":40,"a":0.007,"b":0.325,"c":0.033,"d":0.024,"f":0.028,"g":0.06,"h":0.008,"ii":0.005,"j":0.052,"k":0.073,"l":0.034,"m":0.008,"n":0.008,"o":0.017,"z":0.31},
{"s":"Sample-28","sx":"female","i":41,"a":0.01,"b":0.216,"c":0.017,"d":0.033,"f":0.052,"g":0.063,"h":0.015,"ii":0.008,"j":0.094,"k":0.053,"l":0.073,"m":0.02,"n":0.004,"o":0.006,"z":0.33},
{"s":"Sample-7","sx":"female","i":42,"a":0.005,"b":0.186,"c":0.003,"d":0.054,"f":0.141,"g":0.056,"h":0.007,"ii":0.03,"j":0.027,"k":0.013,"l":0.077,"m":0.023,"n":0.005,"o":0.005,"z":0.36},
{"s":"Sample-21","sx":"female","i":43,"a":0.005,"b":0.209,"c":0.004,"d":0.096,"f":0.047,"g":0.05,"h":0.015,"ii":0.005,"j":0.033,"k":0.024,"l":0.098,"m":0.04,"o":0.028,"z":0.34},
{"s":"Sample-22","sx":"female","i":44,"a":0.04,"b":0.153,"c":0.003,"d":0.173,"f":0.027,"g":0.05,"h":0.013,"j":0.05,"k":0.105,"l":0.045,"m":0.005,"o":0.005,"z":0.33},
{"s":"Sample-219","sx":"female","i":45,"a":0.123,"b":0.232,"d":0.201,"e":0.017,"f":0.027,"g":0.05,"h":0.023,"ii":0.005,"j":0.015,"k":0.005,"l":0.032,"m":0.01,"o":0.003,"z":0.25},
{"s":"Sample-210","sx":"female","i":46,"a":0.06,"b":0.447,"c":0.008,"d":0.05,"e":0.012,"f":0.022,"g":0.056,"h":0.007,"ii":0.005,"j":0.109,"k":0.007,"l":0.023,"m":0.007,"n":0.005,"z":0.18},
{"s":"Sample-220","sx":"female","i":47,"a":0.07,"b":0.445,"c":0.01,"d":0.062,"e":0.012,"f":0.026,"g":0.09,"h":0.01,"ii":0.007,"j":0.037,"k":0.013,"l":0.023,"m":0.007,"n":0.005,"z":0.18},
{"s":"Sample-206","sx":"female","i":48,"a":0.015,"b":0.588,"c":0.01,"d":0.055,"e":0.008,"g":0.06,"h":0.01,"j":0.067,"l":0.02,"m":0.005,"z":0.16},
{"s":"Sample-208","sx":"female","i":49,"a":0.118,"b":0.482,"c":0.003,"d":0.104,"e":0.017,"f":0.005,"g":0.035,"h":0.005,"j":0.09,"l":0.017,"n":0.008,"z":0.12},
{"s":"Sample-65","sx":"female","i":50,"a":0.234,"b":0.496,"c":0.006,"d":0.054,"e":0.038,"f":0.008,"g":0.02,"h":0.007,"ii":0.005,"j":0.012,"l":0.02,"z":0.1},
{"s":"Sample-66","sx":"female","i":51,"a":0.342,"b":0.214,"c":0.007,"d":0.146,"e":0.04,"f":0.015,"g":0.02,"h":0.01,"ii":0.01,"j":0.01,"k":0.007,"l":0.008,"m":0.01,"n":0.005,"z":0.16},
{"s":"Sample-98","sx":"female","i":52,"a":0.449,"b":0.134,"c":0.003,"d":0.118,"e":0.06,"f":0.015,"g":0.025,"h":0.005,"ii":0.01,"j":0.01,"k":0.005,"l":0.007,"m":0.03,"n":0.01,"z":0.12},
{"s":"Sample-101","sx":"female","i":53,"a":0.59,"b":0.073,"c":0.005,"d":0.048,"e":0.087,"f":0.013,"g":0.014,"h":0.006,"ii":0.007,"j":0.007,"k":0.006,"l":0.007,"m":0.015,"z":0.12},
{"s":"Sample-9","sx":"female","i":54,"a":0.556,"b":0.118,"c":0.007,"d":0.088,"e":0.085,"f":0.005,"g":0.012,"h":0.013,"ii":0.005,"j":0.005,"l":0.007,"n":0.006,"z":0.09},
{"s":"Sample-27","sx":"female","i":55,"a":0.502,"b":0.065,"c":0.005,"d":0.075,"e":0.08,"f":0.015,"g":0.013,"h":0.017,"ii":0.007,"j":0.006,"k":0.01,"l":0.007,"m":0.007,"z":0.19},
{"s":"Sample-61","sx":"female","i":56,"a":0.465,"b":0.115,"c":0.006,"d":0.064,"e":0.07,"f":0.033,"g":0.01,"h":0.015,"ii":0.005,"j":0.01,"k":0.01,"l":0.01,"m":0.005,"z":0.18},
{"s":"Sample-19","sx":"female","i":57,"a":0.219,"b":0.304,"c":0.005,"d":0.151,"e":0.028,"f":0.007,"g":0.01,"h":0.015,"ii":0.015,"j":0.013,"k":0.007,"l":0.017,"m":0.008,"z":0.2},
{"s":"Sample-85","sx":"female","i":58,"a":0.355,"b":0.165,"c":0.006,"d":0.108,"e":0.053,"f":0.027,"g":0.01,"h":0.015,"ii":0.015,"j":0.02,"k":0.013,"l":0.03,"m":0.017,"z":0.17},
{"s":"Sample-105","sx":"female","i":59,"a":0.503,"b":0.047,"c":0.006,"d":0.084,"e":0.078,"f":0.02,"g":0.008,"h":0.004,"ii":0.02,"j":0.023,"k":0.007,"l":0.02,"m":0.008,"z":0.17},
{"s":"Sample-55","sx":"female","i":60,"a":0.114,"b":0.121,"c":0.007,"d":0.085,"e":0.025,"f":0.161,"g":0.017,"h":0.02,"ii":0.006,"j":0.022,"k":0.01,"l":0.015,"m":0.013,"n":0.007,"z":0.38},
{"s":"Sample-6","sx":"female","i":61,"a":0.364,"b":0.041,"c":0.004,"d":0.036,"e":0.062,"f":0.032,"g":0.006,"h":0.037,"ii":0.005,"j":0.022,"k":0.013,"l":0.023,"m":0.01,"n":0.007,"z":0.34},
{"s":"Sample-23","sx":"female","i":62,"a":0.568,"b":0.012,"c":0.006,"d":0.012,"e":0.073,"f":0.067,"g":0.015,"h":0.005,"ii":0.01,"k":0.045,"l":0.02,"m":0.015,"z":0.15},
{"s":"Sample-217","sx":"female","i":63,"a":0.546,"b":0.022,"c":0.01,"d":0.042,"e":0.086,"f":0.08,"g":0.01,"h":0.007,"ii":0.005,"j":0.01,"k":0.018,"l":0.027,"m":0.01,"z":0.13},
{"s":"Sample-53","sx":"female","i":64,"a":0.459,"b":0.048,"c":0.005,"d":0.07,"e":0.073,"f":0.074,"g":0.008,"h":0.005,"ii":0.01,"j":0.013,"k":0.012,"l":0.012,"m":0.016,"n":0.01,"z":0.18},
{"s":"Sample-222","sx":"female","i":65,"a":0.405,"b":0.04,"c":0.007,"d":0.053,"e":0.077,"f":0.09,"g":0.013,"h":0.007,"ii":0.005,"j":0.01,"k":0.008,"l":0.017,"m":0.023,"n":0.007,"z":0.24},
{"s":"Sample-59","sx":"female","i":66,"a":0.419,"b":0.104,"c":0.007,"d":0.043,"e":0.063,"f":0.08,"g":0.02,"h":0.01,"ii":0.017,"j":0.013,"k":0.012,"l":0.015,"m":0.023,"n":0.007,"z":0.17},
{"s":"Sample-17","sx":"female","i":67,"a":0.492,"b":0.104,"c":0.004,"d":0.043,"e":0.075,"f":0.048,"g":0.014,"h":0.008,"ii":0.008,"j":0.01,"k":0.012,"l":0.015,"m":0.015,"n":0.01,"z":0.14},
{"s":"Sample-93","sx":"female","i":68,"a":0.57,"b":0.07,"c":0.01,"d":0.016,"e":0.097,"f":0.08,"g":0.007,"h":0.006,"ii":0.007,"j":0.01,"k":0.007,"l":0.013,"m":0.01,"n":0.01,"z":0.08},
{"s":"Sample-71","sx":"female","i":69,"a":0.646,"b":0.024,"c":0.006,"d":0.022,"e":0.092,"f":0.053,"g":0.007,"h":0.008,"ii":0.005,"j":0.005,"k":0.012,"l":0.008,"m":0.012,"z":0.08},
{"s":"Sample-73","sx":"female","i":70,"a":0.576,"b":0.064,"c":0.006,"d":0.05,"e":0.092,"f":0.035,"g":0.007,"h":0.008,"ii":0.005,"j":0.01,"k":0.005,"l":0.01,"m":0.01,"z":0.11},
{"s":"Sample-94","sx":"female","i":71,"a":0.678,"b":0.03,"c":0.005,"d":0.045,"e":0.103,"f":0.026,"g":0.007,"h":0.007,"j":0.006,"l":0.007,"m":0.007,"z":0.08},
{"s":"Sample-99","sx":"female","i":72,"a":0.653,"b":0.017,"c":0.006,"d":0.03,"e":0.09,"f":0.01,"g":0.004,"h":0.006,"ii":0.004,"l":0.008,"z":0.17},
{"s":"Sample-78","sx":"female","i":73,"a":0.598,"b":0.02,"c":0.005,"d":0.03,"e":0.09,"f":0.04,"g":0.005,"h":0.008,"ii":0.007,"j":0.007,"k":0.006,"l":0.004,"z":0.18},
{"s":"Sample-81","sx":"female","i":74,"a":0.727,"b":0.007,"c":0.007,"d":0.013,"e":0.104,"f":0.03,"g":0.007,"h":0.007,"j":0.006,"l":0.007,"z":0.09},
{"s":"Sample-82","sx":"female","i":75,"a":0.731,"b":0.018,"c":0.005,"d":0.003,"e":0.113,"f":0.015,"g":0.005,"h":0.005,"j":0.007,"l":0.006,"m":0.014,"z":0.08},
{"s":"Sample-83","sx":"female","i":76,"a":0.749,"b":0.015,"c":0.007,"d":0.006,"e":0.105,"f":0.02,"g":0.006,"h":0.007,"j":0.005,"l":0.005,"z":0.075},
{"s":"Sample-202","sx":"female","i":77,"a":0.573,"b":0.01,"d":0.003,"e":0.1,"f":0.012,"g":0.005,"h":0.007,"j":0.006,"l":0.007,"z":0.27},
{"s":"Sample-214","sx":"female","i":78,"a":0.701,"b":0.016,"c":0.005,"e":0.092,"f":0.088,"g":0.008,"h":0.006,"j":0.005,"l":0.005,"m":0.006,"n":0.005,"z":0.06},
{"s":"Sample-86","sx":"female","i":79,"a":0.641,"b":0.017,"c":0.008,"e":0.077,"f":0.063,"g":0.004,"h":0.023,"ii":0.005,"m":0.012,"z":0.13},
{"s":"Sample-87","sx":"female","i":80,"a":0.379,"b":0.134,"d":0.01,"e":0.052,"f":0.023,"g":0.005,"h":0.09,"ii":0.005,"j":0.005,"k":0.053,"m":0.025,"n":0.005,"z":0.21},
{"s":"Sample-89","sx":"female","i":81,"a":0.273,"b":0.272,"c":0.012,"e":0.04,"f":0.053,"g":0.015,"h":0.03,"j":0.035,"k":0.005,"l":0.017,"m":0.017,"n":0.005,"z":0.2},
{"s":"Sample-68","sx":"female","i":82,"a":0.583,"b":0.055,"c":0.022,"d":0.006,"e":0.074,"f":0.033,"g":0.007,"h":0.016,"ii":0.005,"j":0.005,"k":0.008,"l":0.005,"m":0.012,"z":0.165},
{"s":"Sample-161","sx":"female","i":83,"a":0.62,"b":0.096,"c":0.012,"d":0.005,"e":0.082,"f":0.043,"g":0.01,"h":0.008,"ii":0.005,"j":0.005,"k":0.005,"l":0.008,"m":0.005,"z":0.092},
{"s":"Sample-75","sx":"female","i":84,"a":0.556,"b":0.08,"c":0.005,"d":0.01,"e":0.093,"f":0.02,"g":0.01,"h":0.008,"ii":0.008,"j":0.008,"k":0.005,"l":0.01,"m":0.01,"n":0.005,"z":0.16},
{"s":"Sample-51","sx":"female","i":85,"a":0.626,"b":0.09,"c":0.008,"d":0.005,"e":0.105,"f":0.015,"g":0.008,"h":0.008,"ii":0.005,"j":0.005,"k":0.005,"l":0.008,"m":0.008,"z":0.1},
{"s":"Sample-47","sx":"female","i":86,"a":0.747,"b":0.027,"c":0.005,"d":0.007,"e":0.093,"f":0.024,"g":0.005,"h":0.005,"j":0.005,"l":0.006,"m":0.008,"n":0.005,"z":0.055},
{"s":"Sample-48","sx":"female","i":87,"a":0.727,"b":0.01,"c":0.037,"d":0.005,"e":0.098,"f":0.024,"g":0.006,"h":0.006,"j":0.005,"k":0.008,"l":0.005,"m":0.006,"z":0.058},
{"s":"Sample-50","sx":"female","i":88,"a":0.654,"b":0.053,"c":0.072,"d":0.002,"e":0.083,"f":0.015,"g":0.008,"h":0.006,"ii":0.006,"j":0.006,"k":0.01,"l":0.006,"m":0.006,"z":0.07},
{"s":"Sample-204","sx":"female","i":89,"a":0.459,"b":0.11,"c":0.129,"d":0.005,"e":0.06,"f":0.024,"g":0.013,"h":0.005,"ii":0.013,"j":0.005,"k":0.017,"l":0.008,"m":0.012,"z":0.125},
{"s":"Sample-205","sx":"female","i":90,"a":0.332,"b":0.005,"c":0.342,"d":0.003,"e":0.047,"f":0.013,"h":0.05,"ii":0.008,"j":0.008,"k":0.006,"l":0.012,"m":0.005,"z":0.165},
{"s":"Sample-182","sx":"female","i":91,"a":0.424,"b":0.008,"c":0.135,"d":0.003,"e":0.063,"f":0.04,"g":0.003,"h":0.022,"ii":0.008,"j":0.01,"k":0.01,"l":0.03,"m":0.01,"z":0.24},
{"s":"Sample-183","sx":"female","i":92,"a":0.138,"b":0.03,"c":0.073,"d":0.005,"e":0.025,"f":0.035,"g":0.008,"h":0.03,"ii":0.008,"k":0.018,"l":0.053,"m":0.043,"n":0.005,"z":0.507},
{"s":"Sample-115","sx":"female","i":93,"a":0.246,"b":0.108,"c":0.2,"d":0.017,"e":0.037,"f":0.098,"g":0.022,"h":0.004,"ii":0.04,"j":0.004,"k":0.013,"l":0.01,"m":0.02,"n":0.005,"z":0.163},
{"s":"Sample-112","sx":"female","i":94,"a":0.03,"b":0.288,"c":0.211,"d":0.02,"e":0.003,"f":0.067,"g":0.046,"h":0.01,"ii":0.04,"j":0.01,"k":0.023,"l":0.01,"m":0.033,"n":0.005,"z":0.19},
{"s":"Sample-121","sx":"female","i":95,"a":0.121,"b":0.121,"c":0.164,"d":0.07,"e":0.012,"f":0.058,"g":0.065,"h":0.017,"ii":0.047,"j":0.023,"k":0.024,"l":0.006,"m":0.017,"n":0.008,"z":0.22},
{"s":"Sample-174","sx":"female","i":96,"a":0.073,"b":0.283,"c":0.06,"d":0.03,"e":0.018,"f":0.02,"g":0.02,"h":0.098,"ii":0.005,"j":0.03,"k":0.09,"l":0.01,"m":0.015,"z":0.24},
{"s":"Sample-136","sx":"female","i":97,"a":0.367,"b":0.106,"c":0.105,"d":0.005,"e":0.052,"f":0.008,"g":0.02,"h":0.028,"ii":0.038,"j":0.04,"k":0.026,"l":0.005,"m":0.023,"n":0.02,"z":0.137},
{"s":"Sample-29","sx":"female","i":98,"a":0.442,"b":0.124,"c":0.102,"d":0.018,"e":0.037,"f":0.007,"g":0.026,"h":0.004,"ii":0.013,"j":0.01,"l":0.015,"m":0.02,"z":0.17},
{"s":"Sample-46","sx":"female","i":99,"a":0.427,"b":0.129,"c":0.178,"d":0.007,"e":0.05,"f":0.015,"g":0.01,"h":0.01,"ii":0.01,"j":0.01,"k":0.01,"l":0.01,"m":0.015,"n":0.01,"z":0.12},
{"s":"Sample-123","sx":"female","i":100,"a":0.355,"b":0.027,"c":0.05,"d":0.198,"e":0.05,"f":0.023,"g":0.012,"h":0.005,"ii":0.045,"j":0.008,"k":0.02,"l":0.025,"m":0.005,"n":0.005,"z":0.16},
{"s":"Sample-149","sx":"female","i":101,"a":0.268,"b":0.088,"c":0.099,"d":0.155,"e":0.037,"f":0.013,"g":0.023,"h":0.008,"ii":0.05,"j":0.01,"k":0.018,"l":0.01,"m":0.01,"o":0.025,"z":0.17},
{"s":"Sample-119","sx":"female","i":102,"a":0.146,"b":0.025,"c":0.16,"d":0.106,"e":0.02,"f":0.022,"g":0.017,"h":0.005,"ii":0.017,"j":0.008,"k":0.01,"l":0.032,"m":0.018,"n":0.01,"o":0.08,"z":0.31}
]
},
"data": {"name": "abund"},
"transform": [
{"fold": ["a","b","c","d","e","f","g","h","ii","j","k","l","m","n","o","z"], "as": ["key","v"]},
{"filter": {"field": "v", "valid": true}},
{"lookup": "key", "from": {"data": {"name": "genus"}, "key": "key", "fields": ["genus","ord"]}}
],
"spacing": 26,
"resolve": {"scale": {"y": "independent"}},
"hconcat": [
{"width": 363, "height": 693,
 "title": {"text": "male", "anchor": "start", "frame": "group", "fontSize": 34, "fontWeight": "normal", "offset": 6, "color": "black"},
 "transform": [{"filter": {"field": "sx", "equal": "male"}}],
 "mark": {"type": "bar", "stroke": "#1a1a1a", "strokeWidth": 0.4},
 "encoding": {
  "y": {"field": "s", "type": "nominal", "sort": {"field": "i", "op": "min"}, "scale": {"paddingInner": 0, "paddingOuter": 0.1}, "axis": {"title": null}},
  "x": {"field": "v", "type": "quantitative", "stack": "normalize", "scale": {"domain": [-0.05, 1.05], "nice": false, "zero": false}, "axis": {"values": [0,0.25,0.5,0.75,1], "labelExpr": "format(datum.value, '.2f')", "title": "Abundance"}},
  "color": {"field": "genus", "type": "nominal", "title": "Genus",
    "scale": {"domain": ["Prevotella melaninogenica et rel.","Oscillospira guillermondii et rel.","Bacteroides vulgatus et rel.","Clostridium cellulosi et rel.","Prevotella oralis et rel.","Faecalibacterium prausnitzii et rel.","Sporobacter termitidis et rel.","Clostridium symbiosum et rel.","Allistipes et rel.","Clostridium orbiscindens et rel.","Subdoligranulum variable at rel.","Ruminococcus obeum et rel.","Butyrivibrio crossotus et rel.","Bacteroides fragilis et rel.","Akkermansia","Other"],
      "range": ["#a6cee3","#1f78b4","#b2df8a","#33a02c","#fb9a99","#e31a1c","#fdbf6f","#ff7f00","#cab2d6","#6a3d9a","#ffff99","#b15928","#1ff8ff","#1b9e77","#d95f02","#d3d3d3"]},
    "legend": {"orient": "none", "legendX": 897, "legendY": -39, "encode": {"symbols": {"update": {"stroke": {"value": "#5a5a5a"}, "strokeWidth": {"value": 1}}}}}},
  "order": {"field": "ord", "type": "quantitative", "sort": "ascending"}
 }},
{"width": 363, "height": 693,
 "title": {"text": "female", "anchor": "start", "frame": "group", "fontSize": 34, "fontWeight": "normal", "offset": 6, "color": "black"},
 "transform": [{"filter": {"field": "sx", "equal": "female"}}],
 "mark": {"type": "bar", "stroke": "#1a1a1a", "strokeWidth": 0.4},
 "encoding": {
  "y": {"field": "s", "type": "nominal", "sort": {"field": "i", "op": "min"}, "scale": {"paddingInner": 0, "paddingOuter": 0.1}, "axis": {"title": null}},
  "x": {"field": "v", "type": "quantitative", "stack": "normalize", "scale": {"domain": [-0.05, 1.05], "nice": false, "zero": false}, "axis": {"values": [0,0.25,0.5,0.75,1], "labelExpr": "format(datum.value, '.2f')", "title": "Abundance"}},
  "color": {"field": "genus", "type": "nominal", "title": "Genus"},
  "order": {"field": "ord", "type": "quantitative", "sort": "ascending"}
 }}
],
"config": {
 "font": "DejaVu Sans",
 "view": {"stroke": null},
 "axis": {"domain": false, "grid": false, "tickColor": "#333333", "labelColor": "#4d4d4d", "titleColor": "black", "titleFontWeight": "normal"},
 "axisY": {"labelFontSize": 12.8, "tickSize": 7, "tickWidth": 1.5, "labelOverlap": false, "labelPadding": 6, "labelColor": "#6e6e6e"},
 "axisX": {"labelFontSize": 23.5, "titleFontSize": 29.5, "tickSize": 7, "tickWidth": 1.2, "labelPadding": 4, "titlePadding": 5},
 "legend": {"titleFontSize": 27, "titleFontWeight": "normal", "titleColor": "black", "titlePadding": 14, "labelFontSize": 15.8, "labelColor": "black", "labelLimit": 400, "labelOffset": 16, "symbolType": "square", "symbolSize": 1764, "rowPadding": -5}
}
}
